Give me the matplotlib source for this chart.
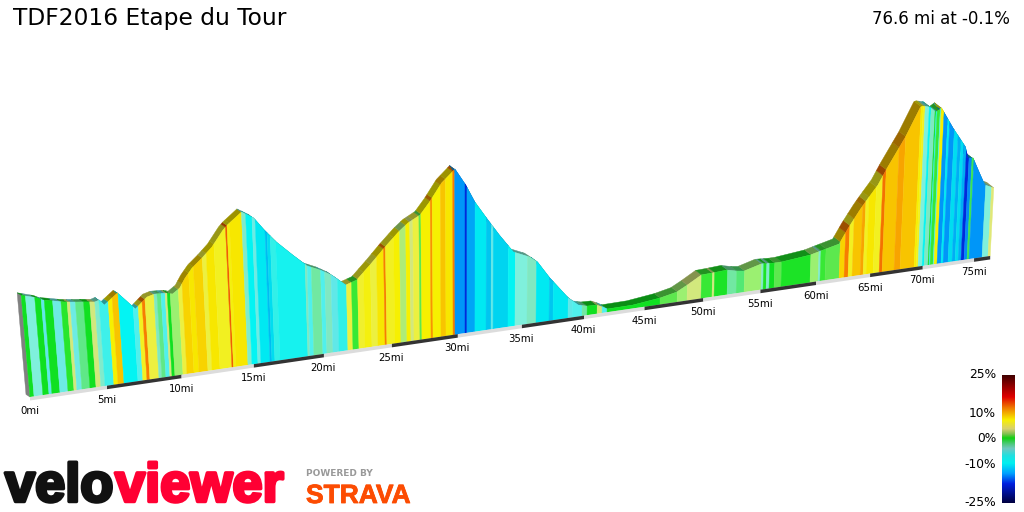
import numpy as np
import matplotlib
matplotlib.use('Agg')
import matplotlib.pyplot as plt
from matplotlib.colors import LinearSegmentedColormap, to_rgb
from matplotlib.patches import Polygon
import matplotlib.patheffects as pe

# ---- data ----
profile_mile = [0.0, 1.0, 1.3, 2.0, 2.6, 3.0, 4.0, 4.6, 4.9, 5.2, 6.1, 7.2, 8.0, 8.5, 9.3, 9.7, 10.2, 10.6, 11.1, 11.8, 12.5, 13.3, 13.6, 14.6, 15.4, 16.1, 16.9, 18.0, 19.0, 19.9, 20.7, 21.7, 22.5, 23.6, 24.6, 25.6, 26.3, 27.2, 27.9, 28.8, 29.6, 29.8, 30.6, 31.3, 32.2, 33.2, 34.3, 35.6, 36.2, 37.2, 38.7, 39.5, 40.2, 41.0, 41.5, 41.9, 44.0, 46.3, 47.7, 48.6, 49.8, 50.7, 52.0, 52.8, 53.5, 55.0, 56.1, 56.8, 59.4, 60.1, 62.0, 62.8, 63.8, 64.3, 65.4, 66.2, 67.8, 69.1, 69.3, 70.0, 70.6, 71.1, 72.3, 73.6, 73.9, 74.4, 75.2, 75.7, 76.6]
profile_elev = [885, 844, 821, 801, 782, 774, 758, 747, 759, 709, 801, 639, 732, 750, 745, 730, 775, 859, 941, 1020, 1108, 1250, 1290, 1394, 1328, 1206, 1084, 947, 830, 778, 718, 609, 642, 782, 917, 1043, 1117, 1179, 1291, 1459, 1554, 1579, 1416, 1243, 1075, 896, 716, 646, 589, 416, 196, 113, 90, 86, 59, 32, 34, 65, 100, 156, 238, 242, 251, 228, 216, 264, 255, 255, 286, 306, 359, 514, 687, 765, 928, 1096, 1404, 1706, 1714, 1696, 1635, 1673, 1443, 1223, 1100, 1093, 899, 783, 739]
band_edges = [0.0, 0.26, 0.83, 1.22, 1.41, 1.93, 2.45, 2.84, 3.03, 3.36, 3.88, 4.28, 4.6, 4.87, 5.46, 5.73, 6.13, 7.06, 7.39, 7.66, 7.86, 8.47, 8.67, 8.94, 9.21, 9.35, 9.55, 10.1, 10.37, 10.85, 11.19, 11.81, 12.09, 12.64, 13.47, 13.58, 13.75, 14.59, 14.87, 15.29, 15.5, 16.14, 16.28, 16.49, 16.85, 18.85, 18.99, 19.28, 19.93, 20.22, 20.66, 21.1, 21.75, 22.12, 22.56, 23.0, 23.52, 23.97, 24.49, 24.63, 25.23, 25.68, 26.13, 26.43, 26.66, 27.11, 27.26, 27.95, 28.1, 28.71, 29.09, 29.63, 29.78, 30.55, 30.7, 31.32, 32.18, 32.57, 32.73, 33.9, 34.45, 35.4, 36.12, 37.16, 37.48, 38.69, 39.02, 39.83, 40.24, 41.06, 41.47, 41.88, 46.3, 47.75, 48.6, 49.8, 50.75, 50.93, 52.06, 52.85, 53.55, 55.05, 55.23, 55.5, 55.76, 56.21, 56.83, 59.45, 60.18, 60.36, 60.82, 62.11, 62.57, 62.94, 63.31, 64.06, 64.34, 64.62, 65.27, 65.84, 66.12, 67.25, 67.82, 69.16, 69.35, 69.54, 69.93, 70.12, 70.5, 70.6, 70.7, 70.99, 71.08, 71.37, 71.76, 71.96, 72.44, 72.83, 73.13, 73.42, 73.71, 74.01, 74.3, 74.5, 75.79, 76.38, 76.6]
band_grade = [0.5,-4,0.5,-5,0.5,-4.5,0.8,3.5,-4.5,-1.5,0.5,3.5,-3.5,-6.5,7,9,-8,-6,6,11,5,-3,-1.5,-6,3.5,0.5,2,5,8.5,7.5,8.5,5,7.5,6,12,6.5,7.5,-3.5,-8,-4.5,-8.5,-10.5,-9,-7,-7.5,-3,-6,-2,-6,-3,-5,-7,5,1,5.5,6.5,5,7.5,11,6,7,2.5,7,3.5,5,1.5,7,10.5,7,9,7.5,11,-12,-16,-11.5,-8.5,-10,-5,-9.5,-8,-4,-3,-8.5,-10,-8.5,-5,-6,-2,0.5,3.5,-6,0.5,1.5,2,3.5,1,3.5,0.7,-2,-1,2,-3.5,0.7,-3.5,0.5,1.5,0.7,2,-3.5,1,1.5,8.5,11,6,9,10,6,7.5,6,11.5,9,10,9,7,6,-4,-8,-3,0.5,-7,1,-6,7,-12,-8.5,-12,-9,-11,-9,-11,-16,-12.5,-0.5,-12,-4,4]
tick_miles = list(range(0, 80, 5))
scale_ticks = [25, 10, 0, -10, -25]
title = 'TDF2016 Etape du Tour'
summary = '76.6 mi at -0.1%'
total_miles = 76.6

face_stops = [(-25,'#000050'),(-17,'#0010d0'),(-14,'#0060f0'),(-12,'#0098f8'),(-10,'#00c8f0'),(-9,'#00e0f0'),(-8,'#00f4f4'),(-7,'#30f0e8'),(-6,'#50f0ec'),(-5,'#60e8e8'),(-4,'#80f0dc'),(-3,'#80e8c0'),(-2,'#70e8a0'),(-1,'#50e870'),(0.5,'#10e020'),(1,'#30e830'),(1.5,'#60e850'),(2,'#98f070'),(3,'#c8e880'),(4,'#e0e878'),(5,'#ecf040'),(6,'#f2f020'),(7,'#f6f000'),(8,'#f8e000'),(9,'#f8c800'),(10,'#f8a800'),(11,'#f88000'),(12,'#f06000'),(15,'#e00000'),(25,'#500000')]
bar_stops = [(-25,'#000040'),(-17.5,'#0020e0'),(-13.5,'#00a0ff'),(-9.5,'#00f0f0'),(-6.5,'#20e0e0'),(-3.7,'#70c8c0'),(-2,'#50c880'),(0.4,'#10d010'),(2,'#80c050'),(4,'#d8d070'),(7.5,'#f8f000'),(12,'#f08000'),(16.5,'#e00000'),(20,'#a00000'),(25,'#400000')]

def make_cmap(stops):
    return LinearSegmentedColormap.from_list('c', [((g + 25) / 50, c) for g, c in stops])
face_cmap, bar_cmap = make_cmap(face_stops), make_cmap(bar_stops)

# ---- perspective projection of (mile, elevation) on the canvas ----
A, B, MPP = 15.65, 0.003244, 8.7
def base_y(x):
    return 397 - 0.1469 * (x - 30)
def slant(bx):
    bx = np.asarray(bx, float)
    return np.where(bx < 465, (bx - 465) / 5000., (bx - 465) / 10000.)
def project(d, e):
    d = np.asarray(d, float); e = np.asarray(e, float)
    bx = 30 + A * d / (1 + B * d); by = base_y(bx); h = e / MPP / (1 + B * d)
    return bx + slant(bx) * h, by - h
def depth(d):
    return -4 - 0.04 * d, -2.5 - 0.04 * d

plt.rcParams['font.family'] = 'DejaVu Sans'
fig = plt.figure(figsize=(10.24, 5.12), dpi=100)
ax = fig.add_axes([0, 0, 1, 1]); ax.set_xlim(0, 1024); ax.set_ylim(512, 0); ax.axis('off')

pm, pz = np.array(profile_mile), np.array(profile_elev)

# end wall at the start
fx, fy = project(0, pz[0]); bx0, by0 = project(0, 0); ox, oy = depth(0)
ax.add_patch(Polygon([(fx + ox, fy + oy), (fx, fy), (bx0, by0), (bx0 + ox, by0 + oy)], fc='#808080', ec='#808080', lw=.3))

faces = []
for i, g in enumerate(band_grade):
    d0, d1 = band_edges[i], band_edges[i + 1]
    ds = np.r_[d0, pm[(pm > d0) & (pm < d1)], d1]
    zs = np.interp(ds, pm, pz)
    tx, ty = project(ds, zs); bx, by = project(ds, 0 * ds)
    c = np.array(to_rgb(face_cmap((g + 25) / 50)))
    ox, oy = depth(ds)
    ax.add_patch(Polygon(np.r_[np.c_[tx, ty], np.c_[tx + ox, ty + oy][::-1]], fc=c * .63, ec=c * .63, lw=.3, zorder=2))
    faces.append((np.r_[np.c_[tx, ty], [[bx[-1], by[-1]], [bx[0], by[0]]]], c))
for p, c in faces:
    ax.add_patch(Polygon(p, fc=c, ec=c, lw=.3, zorder=3))

# distance strip and labels
for i, s in enumerate(tick_miles):
    e = min(s + 5, total_miles)
    x, y = project([s, e], [0, 0])
    ax.add_patch(Polygon([(x[0], y[0]), (x[1], y[1]), (x[1], y[1] + 3.5), (x[0], y[0] + 3.5)],
                         fc='#333333' if i % 2 else '#dcdcdc', ec='none', zorder=4))
    ax.text(x[0] - .5, y[0] + 14, f'{s}mi', ha='center', va='center', fontsize=7.3, color='black')

ax.text(13, 19, title, fontsize=16.8, va='center', ha='left')
ax.text(1010, 19, summary, fontsize=12, va='center', ha='right')

# gradient scale
g = np.linspace(25, -25, 256)[:, None]
ax.imshow((g + 25) / 50, cmap=bar_cmap, vmin=0, vmax=1, extent=(1002, 1015, 503, 375), aspect='auto', zorder=2)
ax.set_xlim(0, 1024); ax.set_ylim(512, 0)
for v in scale_ticks:
    ax.text(996, 439 - 2.56 * v, f'{v}%', ha='right', va='center', fontsize=8.8)

# logos
ax.text(5, 501.5, 'velo', fontsize=39, fontweight='bold', family='Liberation Sans', color='#111111', va='baseline',
        path_effects=[pe.withStroke(linewidth=2.5, foreground='#111111')])
ax.text(115, 501.5, 'viewer', fontsize=39, fontweight='bold', family='Liberation Sans', color='#ff0033', va='baseline',
        path_effects=[pe.withStroke(linewidth=2.5, foreground='#ff0033')])
ax.text(306, 474, 'POWERED BY', fontsize=6.5, fontweight='bold', color='#999999', va='center')
ax.text(306, 503, 'STRAVA', fontsize=19, fontweight='bold', family='Liberation Sans', color='#fc4c02', va='baseline',
        path_effects=[pe.withStroke(linewidth=.6, foreground='#fc4c02')])
fig.savefig('out.png', dpi=100)
